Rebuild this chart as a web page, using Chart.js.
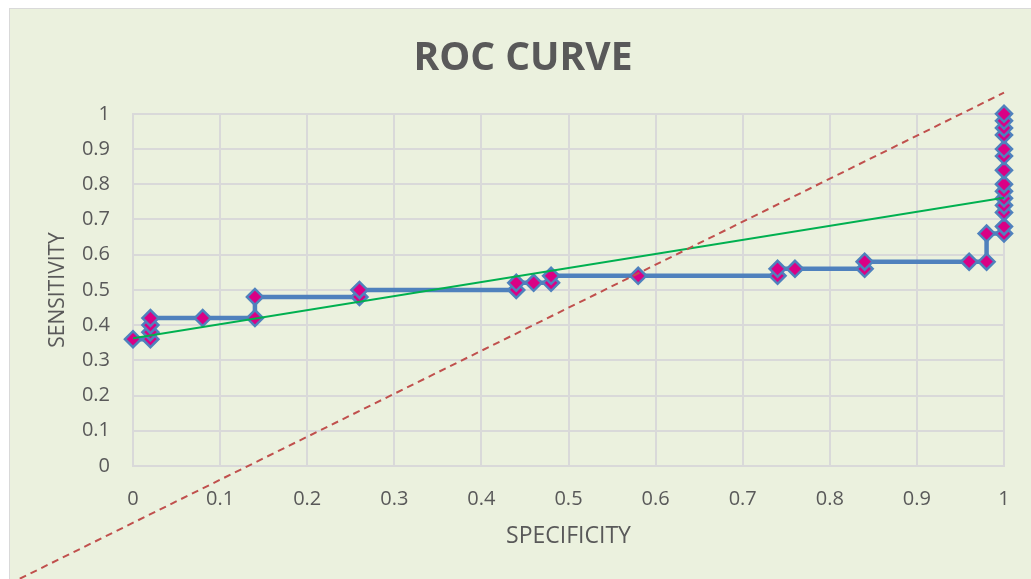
<!DOCTYPE html>
<html>
<head>
<meta charset="utf-8">
<script src="https://cdn.jsdelivr.net/npm/chart.js@4/dist/chart.umd.min.js"></script>
<style>
  html, body { margin: 0; padding: 0; background: #ffffff; overflow: hidden; }
  #frame {
    position: absolute; left: 9px; top: 8px;
    width: 1040px; height: 590px;
    border: 1px solid #d9d9d9;
    background: #ebf1de;
  }
  #chart { position: absolute; left: 0; top: 0; }
</style>
</head>
<body>
<div id="frame">
  <canvas id="chart" width="1021" height="570"></canvas>
</div>
<script>
// ROC points
const specificity = [0, 0.02, 0.02, 0.02, 0.02, 0.08, 0.14, 0.14, 0.26, 0.26,
  0.44, 0.44, 0.46, 0.48, 0.48, 0.58, 0.74, 0.74, 0.76, 0.84, 0.84, 0.96, 0.98, 0.98,
  1, 1, 1, 1, 1, 1, 1, 1, 1, 1, 1, 1, 1, 1];
const sensitivity = [0.36, 0.36, 0.38, 0.40, 0.42, 0.42, 0.42, 0.48, 0.48, 0.50,
  0.50, 0.52, 0.52, 0.52, 0.54, 0.54, 0.54, 0.56, 0.56, 0.56, 0.58, 0.58, 0.58, 0.66,
  0.66, 0.68, 0.72, 0.74, 0.76, 0.78, 0.80, 0.84, 0.88, 0.90, 0.94, 0.96, 0.98, 1.00];

// linear trendline
const trendX = [0, 1];
const trendY = [0.363, 0.762];

// dashed reference line (runs past the plot area)
const diagX = [-0.13, 1.0];
const diagY = [-0.32, 1.06];

const tickLabels = ["0", "0.1", "0.2", "0.3", "0.4", "0.5", "0.6", "0.7", "0.8", "0.9", "1"];

function toPoints(xs, ys) {
  return xs.map((x, i) => ({ x: x, y: ys[i] }));
}

const labelColor = "#595959";
const gridColor = "#d9d9d9";

new Chart(document.getElementById("chart"), {
  type: "scatter",
  data: {
    datasets: [
      {
        label: "diagonal",
        data: toPoints(diagX, diagY),
        showLine: true,
        borderColor: "#c0504d",
        borderWidth: 2,
        borderDash: [7, 5],
        pointRadius: 0,
        clip: false,
      },
      {
        label: "trend",
        data: toPoints(trendX, trendY),
        showLine: true,
        borderColor: "#00b050",
        borderWidth: 2,
        pointRadius: 0,
      },
      {
        label: "ROC",
        data: toPoints(specificity, sensitivity),
        showLine: true,
        borderColor: "#4f81bd",
        borderWidth: 4.5,
        pointStyle: "rectRot",
        pointRadius: 8,
        pointBorderWidth: 2.5,
        pointBackgroundColor: "#da0085",
        pointBorderColor: "#4f81bd",
        clip: false,
      },
    ]
  },
  options: {
    responsive: false,
    animation: false,
    layout: { padding: { left: 32, right: 27, top: 0, bottom: 0 } },
    plugins: {
      legend: { display: false },
      tooltip: { enabled: false },
      title: {
        display: true,
        text: "ROC CURVE",
        color: labelColor,
        font: { family: "Open Sans", size: 39, weight: "bold" },
        padding: { top: 26, bottom: 32 },
      },
    },
    scales: {
      x: {
        type: "linear",
        min: 0,
        max: 1,
        afterFit: (scale) => { scale.height = 113; },
        ticks: {
          stepSize: 0.1,
          padding: 21,
          color: labelColor,
          font: { family: "Open Sans", size: 20 },
          callback: (v, i) => tickLabels[i],
        },
        grid: { color: gridColor, lineWidth: 2, drawTicks: false },
        border: { color: gridColor, width: 2 },
        title: {
          display: true,
          text: "SPECIFICITY",
          color: labelColor,
          font: { family: "Open Sans", size: 23 },
          padding: { top: 0, bottom: 29 },
        },
      },
      y: {
        type: "linear",
        min: 0,
        max: 1,
        afterFit: (scale) => { scale.width = 91; },
        ticks: {
          stepSize: 0.1,
          padding: 23,
          color: labelColor,
          font: { family: "Open Sans", size: 20 },
          callback: (v, i) => tickLabels[i],
        },
        grid: { color: gridColor, lineWidth: 2, drawTicks: false },
        border: { color: gridColor, width: 2 },
        title: {
          display: true,
          text: "SENSITIVITY",
          color: labelColor,
          font: { family: "Open Sans", size: 21 },
          padding: { top: 3, bottom: 0 },
        },
      },
    },
  },
});
</script>
</body>
</html>
